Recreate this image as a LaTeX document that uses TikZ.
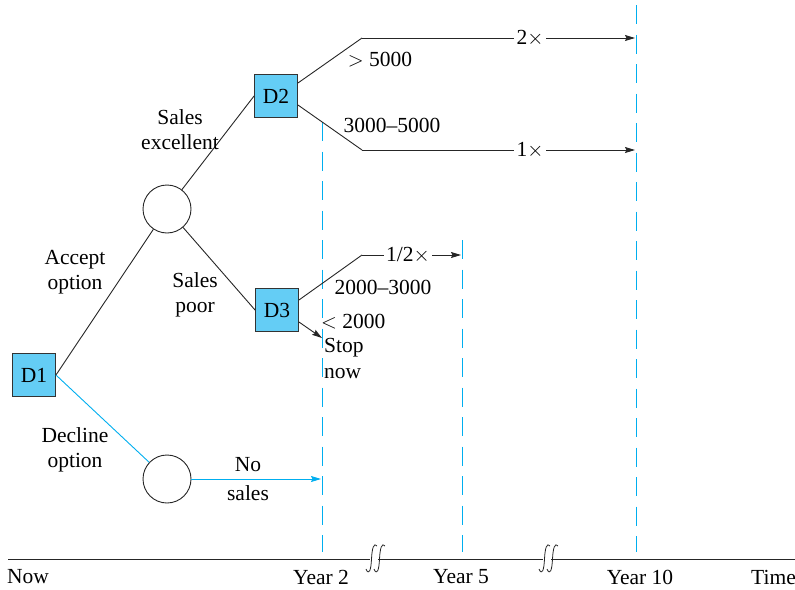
\documentclass[tikz,border=0pt]{standalone}
\usepackage{fontspec}
\setmainfont{Liberation Serif}
\usetikzlibrary{arrows.meta,calc}
\definecolor{lineblue}{RGB}{0,174,239}
\definecolor{boxblue}{RGB}{100,205,245}
\begin{document}
\begin{tikzpicture}[x=1pt,y=-1pt,
  every node/.style={font=\fontsize{21.5}{25}\selectfont, inner sep=1pt},
  dbox/.style={draw=black!80, fill=boxblue, line width=0.9pt, minimum size=43pt, inner sep=0pt},
  chance/.style={circle, draw=black!85, line width=0.9pt, minimum size=48pt, inner sep=0pt},
  conn/.style={black!85, line width=0.9pt},
  bconn/.style={lineblue, line width=0.9pt},
  tip/.style={-{Stealth[length=10pt,width=6pt,inset=1.5pt]}},
  vdash/.style={lineblue, line width=0.9pt, dash pattern=on 19pt off 10.5pt},
  lbl/.style={align=center},
  brk/.style={black!85, line width=0.8pt}
]
\useasboundingbox (0,0) rectangle (795,589);

% nodes
\node[dbox] (D1) at (34,375) {D1};
\node[dbox] (D2) at (276,96) {D2};
\node[dbox] (D3) at (277,310) {D3};
\node[chance] (C1) at (167,209) {};
\node[chance] (C2) at (167,479) {};

% dashed time markers
\coordinate (v2t) at (322,122);
\coordinate (v2b) at (322,552);
\coordinate (v5t) at (462,240);
\coordinate (v5b) at (462,552);
\coordinate (v10t) at (636,5);
\coordinate (v10b) at (636,552);
\draw[vdash] (v2t) -- (v2b);
\draw[vdash] (v5t) -- (v5b);
\draw[vdash] (v10t) -- (v10b);

% main branches
\draw[conn] (D1.east) -- (C1);
\draw[bconn] (D1.east) -- (C2);
\draw[conn] (C1) -- (D2.west);
\draw[conn] (C1) -- (D3.west);

% D2 branches
\coordinate (u1) at (362,38);
\coordinate (u2) at (635,38);
\coordinate (l1) at (362,150);
\coordinate (l2) at (635,150);
\draw[conn] ($(D2.east)+(0,-13)$) -- (u1);
\draw[conn,tip] (u1) -- (u2);
\node[fill=white, inner xsep=3pt] (m2) at (530,38) {2$\times$};
\draw[conn] ($(D2.east)+(0,9)$) -- (l1);
\draw[conn,tip] (l1) -- (l2);
\node[fill=white, inner xsep=3pt] (m1) at (530,150) {1$\times$};
\node (g5) at (380,60) {$>$ 5000};
\node (g35) at (392,125) {3000–5000};

% D3 branches
\coordinate (h1) at (362,255);
\coordinate (h2) at (461,255);
\draw[conn] ($(D3.east)+(0,-10)$) -- (h1);
\draw[conn,tip] (h1) -- (h2);
\node[fill=white, inner xsep=2pt] (mh) at (408,255) {1/2$\times$};
\node (g23) at (383,287) {2000–3000};
\coordinate (s1) at (322,338);
\draw[conn,tip] ($(D3.east)+(0,12)$) -- (s1);
\node[anchor=west] (g2) at (320,322) {$<$ 2000};
\node[anchor=west] (stop) at (323,348) {Stop};
\node[anchor=west] (now) at (323,374) {now};

% decline branch
\coordinate (ns) at (321,479);
\draw[bconn,tip] (C2) -- (ns);
\node (no) at (248,465) {No};
\node (sales) at (248,493) {sales};

% branch labels
\node[lbl] (lse) at (180,130) {Sales\\excellent};
\node[lbl] (lao) at (75,272) {Accept\\option};
\node[lbl] (lsp) at (195,295) {Sales\\poor};
\node[lbl] (ldo) at (75,450) {Decline\\option};

% time axis
\coordinate (ax0) at (8,559);
\coordinate (ax1) at (795,559);
\draw[black!85, line width=1pt] (ax0) -- (ax1);
\foreach \bx in {376,549}{
  \fill[white] (\bx-6,555) rectangle (\bx+2,563);
  \draw[brk] (\bx-10,569) .. controls (\bx-7,576) and (\bx-5,570) .. (\bx-4.5,559)
             .. controls (\bx-4,548) and (\bx-2,542) .. (\bx+1,546);
  \draw[brk] (\bx-2,569) .. controls (\bx+1,576) and (\bx+3,570) .. (\bx+3.5,559)
             .. controls (\bx+4,548) and (\bx+6,542) .. (\bx+9,546);
}
\node[anchor=west] (tnow) at (6,577) {Now};
\node (ty2) at (321,577) {Year 2};
\node (ty5) at (461,577) {Year 5};
\node (ty10) at (640,577) {Year 10};
\node[anchor=east] (ttime) at (797,577) {Time};
\end{tikzpicture}
\end{document}
